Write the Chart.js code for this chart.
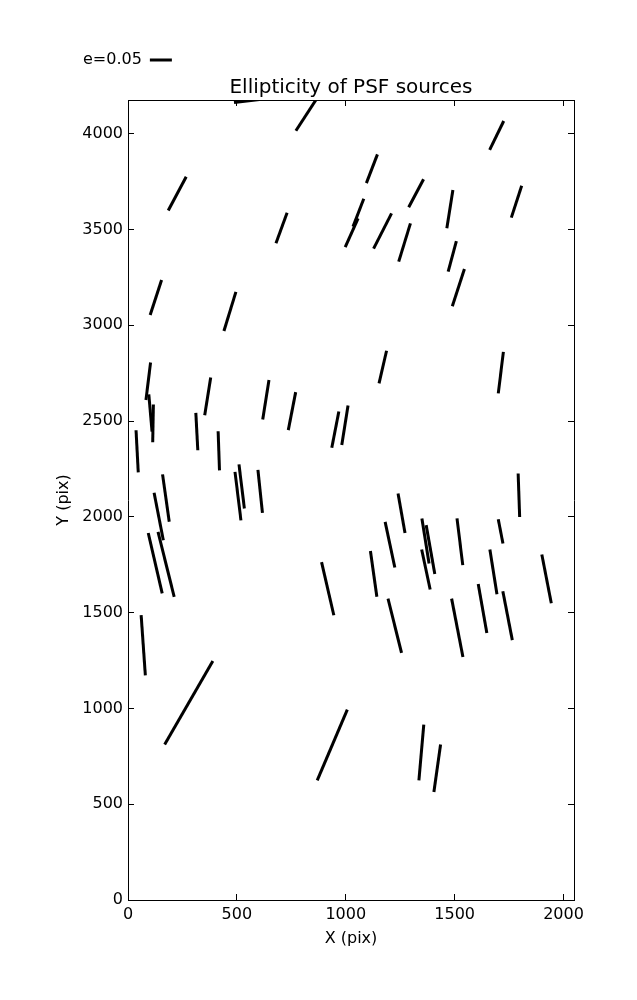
<!DOCTYPE html>
<html>
<head>
<meta charset="utf-8">
<script src="https://cdn.jsdelivr.net/npm/chart.js@4/dist/chart.umd.min.js"></script>
<style>
  body { margin: 0; background: #fff; }
  #wrap { width: 637px; height: 1000px; }
</style>
</head>
<body>
<div id="wrap"><canvas id="myChart"></canvas></div>
<script>
// PSF source positions (pix), ellipticity and position angle (deg, ccw from +x)
const srcX = [555, 821, 1693, 226, 1120, 705, 1027, 1058, 1323, 1169, 1270, 1478, 1489, 1517, 1784,
    128, 468, 93, 103, 115, 366, 633, 753, 952, 996, 1170, 1712, 42, 316, 417,
    174, 505, 522, 607, 141, 175, 125, 1795, 1256, 1203, 1366, 1389, 1368, 1524, 1711,
    1128, 1678, 1922, 917, 1225, 1512, 1628, 1743, 70, 279, 938, 1347, 1420];
const srcY = [4172, 4103, 3991, 3687, 3817, 3508, 3483, 3588, 3689, 3492, 3432, 3606, 3360, 3197, 3645,
    3145, 3072, 2708, 2542, 2488, 2629, 2611, 2552, 2455, 2478, 2782, 2753, 2342, 2445, 2345,
    2098, 2108, 2159, 2133, 2002, 1752, 1758, 2113, 2019, 1855, 1874, 1829, 1725, 1870, 1924,
    1702, 1713, 1676, 1625, 1432, 1421, 1522, 1484, 1330, 1030, 809, 770, 688];
const srcE = [0.068, 0.091, 0.073, 0.087, 0.070, 0.074, 0.072, 0.068, 0.072, 0.090, 0.091, 0.088, 0.072, 0.089, 0.076,
    0.084, 0.093, 0.086, 0.085, 0.086, 0.087, 0.091, 0.088, 0.084, 0.091, 0.076, 0.095, 0.096, 0.085, 0.089,
    0.109, 0.111, 0.101, 0.098, 0.110, 0.152, 0.141, 0.099, 0.091, 0.106, 0.104, 0.113, 0.093, 0.107, 0.056,
    0.105, 0.103, 0.113, 0.124, 0.127, 0.135, 0.113, 0.113, 0.137, 0.219, 0.175, 0.127, 0.109];
const srcPA = [7, 57, 64, 62, 69, 70, 66, 69, 62, 63, 73, 81, 75, 72, 72,
    72, 73, 83, 95, 89, 81, 81, 79, 79, 81, 77, 83, 93, 93, 92,
    98, 97, 97, 96, 101, 104, 103, 92, 100, 102, 99, 100, 102, 97, 101,
    98, 99, 101, 103, 104, 101, 100, 101, 94, 60, 67, 85, 82];

const xTicks = [0, 500, 1000, 1500, 2000];
const yTicks = [0, 500, 1000, 1500, 2000, 2500, 3000, 3500, 4000];
const keyE = 0.05;
const keyLabel = 'e=0.05';

const X_MAX = 2048;
const Y_MAX = 4176;
const PX_PER_E = 440; // whisker length in px for e=1

Chart.defaults.font.family = '"DejaVu Sans", sans-serif';
Chart.defaults.font.size = 16;
Chart.defaults.color = '#000';

const setTicks = vals => scale => { scale.ticks = vals.map(v => ({ value: v })); };
const plain = v => String(v);

const frame = {
    border: { display: true, color: '#000', width: 1 },
    grid: { drawOnChartArea: false, drawTicks: true, tickLength: -6, color: '#000' }
};

// move legend to the left and centre the title over the axes
const placeBoxes = {
    id: 'placeBoxes',
    afterLayout(chart) {
        const a = chart.chartArea;
        const t = chart.titleBlock;
        t.left = a.left; t.right = a.right; t.width = a.right - a.left;
        const lg = chart.legend;
        const h = lg.bottom - lg.top;
        lg.left = 75; lg.width = 200; lg.right = 275;
        lg.top += 2; lg.bottom = lg.top + h;
    }
};

const data = {
    datasets: [{
        label: keyLabel,
        data: srcX.map((x, i) => ({ x: x, y: srcY[i] })),
        pointStyle: 'line',
        pointRadius: ctx => srcE[ctx.dataIndex] * PX_PER_E / 2,
        pointRotation: ctx => -srcPA[ctx.dataIndex],
        pointBorderColor: '#000',
        pointBackgroundColor: '#000',
        pointBorderWidth: 3,
        showLine: false,
        clip: 0
    }]
};

const config = {
    type: 'scatter',
    data: data,
    plugins: [placeBoxes],
    options: {
        responsive: true,
        maintainAspectRatio: false,
        animation: false,
        events: [],
        layout: { padding: { top: 42, left: 50, right: 63, bottom: 48 } },
        plugins: {
            tooltip: { enabled: false },
            legend: {
                position: 'top',
                align: 'end',
                rtl: true,
                weight: 3000,
                labels: {
                    usePointStyle: true,
                    pointStyleWidth: keyE * PX_PER_E,
                    boxWidth: keyE * PX_PER_E,
                    padding: 8,
                    color: '#000',
                    font: { size: 16 },
                    generateLabels: () => [{
                        text: keyLabel, pointStyle: 'line', rotation: 0, lineWidth: 3,
                        strokeStyle: '#000', fillStyle: '#000', hidden: false, datasetIndex: 0
                    }]
                }
            },
            title: {
                display: true,
                text: 'Ellipticity of PSF sources',
                color: '#000',
                font: { size: 20, weight: 'normal' },
                padding: { top: 0, bottom: 0 }
            }
        },
        scales: {
            x: {
                type: 'linear', position: 'bottom', min: 0, max: X_MAX,
                afterBuildTicks: setTicks(xTicks),
                afterFit: s => { s.height = 52; },
                ticks: { padding: 11, maxRotation: 0, color: '#000', callback: plain },
                title: { display: true, text: 'X (pix)', color: '#000', font: { size: 16 } },
                border: frame.border, grid: frame.grid
            },
            y: {
                type: 'linear', position: 'left', min: 0, max: Y_MAX,
                afterBuildTicks: setTicks(yTicks),
                afterFit: s => { s.width = 78; },
                ticks: { padding: 11, color: '#000', callback: plain },
                title: { display: true, text: 'Y (pix)', color: '#000', font: { size: 16 } },
                border: frame.border, grid: frame.grid
            },
            x2: {
                type: 'linear', position: 'top', min: 0, max: X_MAX,
                afterBuildTicks: setTicks(xTicks),
                afterFit: s => { s.height = 0; },
                ticks: { display: false },
                border: frame.border, grid: frame.grid
            },
            y2: {
                type: 'linear', position: 'right', min: 0, max: Y_MAX,
                afterBuildTicks: setTicks(yTicks),
                afterFit: s => { s.width = 0; },
                ticks: { display: false },
                border: frame.border, grid: frame.grid
            }
        }
    }
};

const myChart = new Chart(document.getElementById('myChart'), config);
</script>
</body>
</html>
